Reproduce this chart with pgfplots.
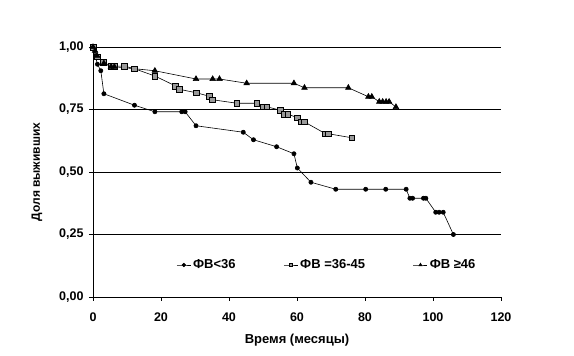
\documentclass[border=0pt]{standalone}
\usepackage{pgfplots}
\pgfplotsset{compat=1.18}
\usepackage{fontspec}
\setmainfont{Liberation Sans}
\begin{document}
\begin{tikzpicture}[x=1pt,y=1pt]
\path[use as bounding box] (-93,-59) rectangle (481,297);
\begin{axis}[
  at={(0,0)}, anchor=south west,
  scale only axis, width=408pt, height=250pt,
  xmin=0, xmax=120, ymin=0, ymax=1,
  axis lines*=left,
  axis line style={black, line width=0.8pt},
  xtick={0,20,...,120}, ytick={0,0.25,0.5,0.75,1},
  ymajorgrids, grid style={black, line width=0.8pt},
  tick align=outside, major tick length=4pt,
  tick style={black, line width=0.8pt},
  ticklabel style={font=\bfseries\fontsize{12.5}{13}\selectfont},
  /pgf/number format/assume math mode=true,
  yticklabel style={/pgf/number format/fixed, /pgf/number format/fixed zerofill, /pgf/number format/precision=2, /pgf/number format/use comma, xshift=-2pt},
  xticklabel style={yshift=-8pt},
  xlabel={\bfseries\fontsize{13}{14}\selectfont Время (месяцы)},
  ylabel={\bfseries\fontsize{12}{13}\selectfont Доля выживших},
  xlabel style={at={(axis description cs:0.5,0)}, anchor=center, yshift=-43pt},
  ylabel style={at={(axis description cs:0,0.5)}, anchor=center, yshift=56pt},
  clip=false,
  legend style={draw=none, fill=none, at={(axis cs:24.5,0.128)}, anchor=west, inner xsep=0pt,
    font=\bfseries\fontsize{13}{14}\selectfont, /tikz/every even column/.append style={column sep=46pt}},
  legend columns=3,
  legend image code/.code={\draw[mark repeat=2,mark phase=2,#1, line width=0.6pt, mark size=1.8pt] plot coordinates {(0pt,0pt)(7pt,0pt)(14pt,0pt)};},
]
\addplot[black, line width=0.6pt, mark=*, mark size=2.1pt, mark options={fill=black}] coordinates {
(0,1.00) (1.3,0.931) (2.3,0.905) (3.2,0.813) (12.2,0.767) (18.2,0.741) (26.1,0.741) (27.1,0.741)
(30.3,0.685) (44.2,0.659) (47.2,0.629) (54.0,0.601) (59.1,0.573) (60.1,0.516) (64.1,0.459)
(71.4,0.431) (80.2,0.431) (86.1,0.431) (92.1,0.431) (93.2,0.395) (94.0,0.395) (97.2,0.395) (97.9,0.395)
(100.8,0.339) (101.8,0.339) (103.0,0.339) (106.0,0.25)
};
\addlegendentry{ФВ<36}
\addplot[black, line width=0.6pt, mark=square*, mark size=2.9pt, mark options={fill=black!40, draw=black, line width=0.6pt}] coordinates {
(0,1.00) (1.2,0.961) (3.1,0.94) (5.3,0.923) (6.3,0.923) (9.2,0.924) (12.2,0.913) (18.2,0.884)
(24.3,0.844) (25.3,0.831) (30.4,0.817) (34.2,0.803) (35.2,0.789) (42.3,0.775) (48.2,0.775)
(50.1,0.761) (51.1,0.761) (55.2,0.747) (56.3,0.732) (57.3,0.732) (60.1,0.717) (61.1,0.701) (62.1,0.701)
(68.4,0.653) (69.2,0.653) (76.1,0.637)
};
\addlegendentry{ФВ =36-45}
\addplot[black, line width=0.6pt, mark=triangle*, mark size=3.2pt, mark options={fill=black}] coordinates {
(0,1.00) (0.6,0.985) (1.2,0.965) (3.2,0.935) (5.3,0.921) (6.3,0.921) (18.2,0.905) (30.3,0.872)
(35.2,0.872) (37.2,0.872) (45.2,0.855) (59.1,0.855) (62.2,0.837) (75.1,0.837) (81.0,0.801) (82.0,0.801)
(84.2,0.781) (85.2,0.781) (86.2,0.781) (87.1,0.781) (89.1,0.76)
};
\addlegendentry{ФВ ≥46}
\end{axis}
\end{tikzpicture}
\end{document}
